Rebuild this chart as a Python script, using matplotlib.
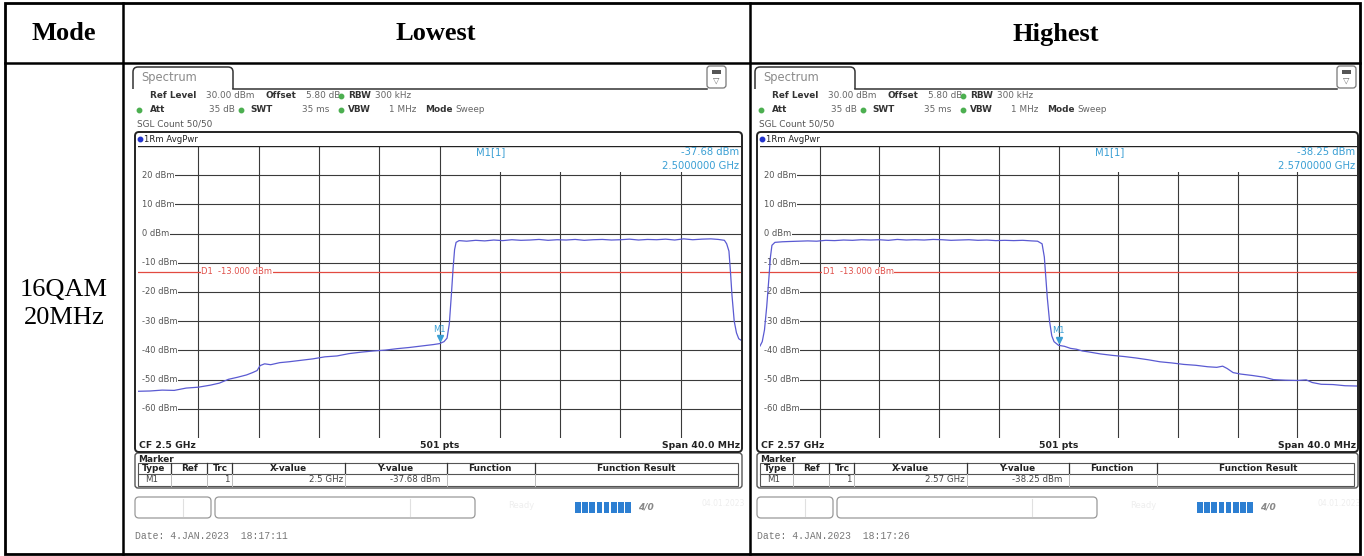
import matplotlib.pyplot as plt
from matplotlib.patches import FancyBboxPatch, Rectangle

W, H = 1364, 556

# table text
columns = ["Mode", "Lowest", "Highest"]
mode_label = "16QAM\n20MHz"

# lowest channel trace (offset from CF in MHz, level in dBm)
low_f = [-20.0, -19.2, -18.4, -17.6, -16.8, -16.0, -15.2, -14.6, -14.0, -13.4,
         -12.8, -12.4, -12.1, -11.9, -11.6, -11.2, -10.6, -10.0, -9.2, -8.4,
         -7.6, -6.8, -6.0, -5.2, -4.4, -3.6, -2.8, -2.0, -1.2, -0.4,
         0.0, 0.3, 0.5, 0.65, 0.8, 0.9, 1.0, 1.1, 1.3, 1.8,
         2.4, 3.0, 3.6, 4.2, 4.8, 5.4, 6.0, 6.6, 7.2, 7.8,
         8.4, 9.0, 9.6, 10.2, 10.8, 11.4, 12.0, 12.6, 13.2, 13.8,
         14.4, 15.0, 15.6, 16.2, 16.8, 17.4, 18.0, 18.5, 18.9, 19.05,
         19.2, 19.3, 19.4, 19.55, 19.7, 19.85, 20.0]
low_p = [-54.0, -53.9, -53.6, -53.7, -52.9, -52.6, -51.9, -51.2, -49.9, -49.2,
         -48.4, -47.6, -46.9, -45.2, -44.6, -44.9, -44.2, -43.9, -43.4, -42.9,
         -42.2, -41.9, -41.1, -40.6, -40.2, -39.9, -39.4, -39.0, -38.5, -38.0,
         -37.68, -37.0, -35.8, -31.0, -20.0, -12.0, -5.5, -3.0, -2.4, -2.6,
         -2.3, -2.5, -2.2, -2.4, -2.1, -2.3, -2.2, -2.0, -2.3, -2.1,
         -2.2, -2.0, -2.3, -2.1, -2.0, -2.2, -2.1, -1.9, -2.2, -2.0,
         -2.1, -1.9, -2.2, -1.8, -2.1, -1.9, -1.8, -2.0, -2.3, -3.5,
         -6.0, -13.0, -21.0, -30.0, -34.0, -36.0, -36.5]

# highest channel trace
high_f = [-20.0, -19.85, -19.7, -19.55, -19.4, -19.3, -19.2, -19.0, -18.5, -18.0,
          -17.4, -16.8, -16.2, -15.6, -15.0, -14.4, -13.8, -13.2, -12.6, -12.0,
          -11.4, -10.8, -10.2, -9.6, -9.0, -8.4, -7.8, -7.2, -6.6, -6.0,
          -5.4, -4.8, -4.2, -3.6, -3.0, -2.4, -1.8, -1.4, -1.1, -0.95,
          -0.85, -0.75, -0.6, -0.45, -0.3, 0.0, 0.4, 0.8, 1.2, 1.6,
          2.0, 2.8, 3.6, 4.4, 5.2, 6.0, 6.8, 7.6, 8.4, 9.2,
          10.0, 10.6, 11.0, 11.3, 11.7, 12.2, 13.0, 13.8, 14.4, 15.2,
          16.0, 16.6, 17.0, 17.6, 18.4, 19.2, 20.0]
high_p = [-38.5, -37.0, -33.0, -25.0, -15.0, -8.0, -4.0, -3.0, -2.8, -2.7,
          -2.6, -2.5, -2.6, -2.3, -2.4, -2.2, -2.3, -2.1, -2.2, -2.1,
          -2.3, -2.0, -2.2, -2.1, -2.2, -2.0, -2.1, -2.3, -2.2, -2.1,
          -2.3, -2.2, -2.4, -2.3, -2.4, -2.3, -2.5, -2.6, -3.5, -8.0,
          -15.0, -22.0, -30.0, -35.0, -37.0, -38.25, -38.6, -39.3, -39.6, -40.2,
          -40.5, -41.2, -41.7, -42.1, -42.6, -43.2, -43.9, -44.3, -44.8, -45.1,
          -45.6, -45.8, -45.4, -46.2, -47.6, -48.1, -48.6, -49.2, -50.0, -50.2,
          -50.3, -50.1, -51.0, -51.6, -51.7, -52.1, -52.2]

marker_levels = [-37.68, -38.25]
marker_freqs = ["2.5000000 GHz", "2.5700000 GHz"]
center_freqs = ["2.5 GHz", "2.57 GHz"]
dates = ["Date: 4.JAN.2023  18:17:11", "Date: 4.JAN.2023  18:17:26"]
limit_dbm = -13.0
y_ticks = [20, 10, 0, -10, -20, -30, -40, -50, -60]
table_cols = ["Type", "Ref", "Trc", "X-value", "Y-value", "Function", "Function Result"]

SANS = "DejaVu Sans"
TRACE = "#5a5ad2"
MK = "#3a9fd4"

fig = plt.figure(figsize=(W / 100, H / 100), dpi=100)
ax0 = fig.add_axes([0, 0, 1, 1])
ax0.set_xlim(0, W)
ax0.set_ylim(H, 0)
ax0.axis("off")

# table grid
ax0.add_patch(Rectangle((5, 3), 1355, 551, fill=False, lw=2, ec="black", zorder=10))
for x in [123, 750]:
    ax0.plot([x, x], [3, 554], color="black", lw=1.8, zorder=10)
ax0.plot([5, 1360], [63, 63], color="black", lw=1.8, zorder=10)
for x, t in zip([64, 436, 1056], columns):
    ax0.text(x, 34, t, ha="center", va="center", fontsize=19, fontweight="bold",
             family="Liberation Serif")
ax0.text(64, 304, mode_label, ha="center", va="center", fontsize=19,
         family="Liberation Serif", linespacing=1.3)


def t0(x, y, s, **kw):
    kw.setdefault("fontsize", 6.4)
    kw.setdefault("family", SANS)
    kw.setdefault("va", "center")
    kw.setdefault("color", "#333333")
    ax0.text(x, y, s, **kw)


def dot(x, y, c="#4caf50"):
    ax0.plot(x, y, "o", ms=3.2, color=c, mec=c, zorder=5)


def draw_screen(ox, pw, f, p, mlev, mfreq, cf, date, icon_x):
    right = ox + pw
    # tab
    ax0.add_patch(FancyBboxPatch((ox - 5, 67), 100, 40, boxstyle="round,pad=0,rounding_size=5",
                                 fc="white", ec="#333333", lw=1.1, zorder=1))
    ax0.add_patch(Rectangle((ox - 7, 89), 104, 20, fc="white", ec="none", zorder=2))
    ax0.plot([ox + 95, icon_x], [88.5, 88.5], color="#333333", lw=1.1, zorder=3)
    t0(ox + 3, 78, "Spectrum", fontsize=8.3, color="#8a8a8a", zorder=4)
    ax0.add_patch(FancyBboxPatch((icon_x, 66), 19, 22, boxstyle="round,pad=0,rounding_size=3",
                                 fc="white", ec="#777777", lw=0.9, zorder=3))
    ax0.add_patch(Rectangle((icon_x + 5, 70), 9, 4, fc="#555555", ec="none", zorder=4))
    ax0.text(icon_x + 9.5, 80, "\u25bd", ha="center", va="center", fontsize=6, color="#666666", zorder=4)

    # setting rows
    t0(ox + 12, 96, "Ref Level", fontweight="bold", zorder=4)
    t0(ox + 68, 96, "30.00 dBm", color="#666666", zorder=4)
    t0(ox + 127, 96, "Offset", fontweight="bold", zorder=4)
    t0(ox + 168, 96, "5.80 dB", color="#666666", zorder=4)
    dot(ox + 203, 96)
    t0(ox + 210, 96, "RBW", fontweight="bold", zorder=4)
    t0(ox + 237, 96, "300 kHz", color="#666666", zorder=4)
    dot(ox + 1, 110)
    t0(ox + 12, 110, "Att", fontweight="bold", zorder=4)
    t0(ox + 97, 110, "35 dB", ha="right", color="#666666", zorder=4)
    dot(ox + 103, 110)
    t0(ox + 112, 110, "SWT", fontweight="bold", zorder=4)
    t0(ox + 191, 110, "35 ms", ha="right", color="#666666", zorder=4)
    dot(ox + 203, 110)
    t0(ox + 210, 110, "VBW", fontweight="bold", zorder=4)
    t0(ox + 278, 110, "1 MHz", ha="right", color="#666666", zorder=4)
    t0(ox + 287, 110, "Mode", fontweight="bold", zorder=4)
    t0(ox + 317, 110, "Sweep", color="#666666", zorder=4)
    t0(ox - 1, 124, "SGL Count 50/50", color="#555555", zorder=4)

    # diagram frame
    ax0.add_patch(FancyBboxPatch((ox - 3, 132), pw + 4, 320, boxstyle="round,pad=0,rounding_size=4",
                                 fill=False, ec="#222222", lw=1.4, zorder=6))
    dot(ox + 2, 139, c="#2233cc")
    t0(ox + 6, 139, "1Rm AvgPwr", fontsize=6.1, color="#222222")
    t0(ox + 1, 445, "CF " + cf, fontweight="bold", fontsize=6.7, color="#222222")
    t0(ox + pw / 2, 445, "501 pts", fontweight="bold", fontsize=6.7, ha="center", color="#222222")
    t0(right - 1, 445, "Span 40.0 MHz", fontweight="bold", fontsize=6.7, ha="right", color="#222222")

    # spectrum axes
    ax = fig.add_axes([ox / W, 1 - 438 / H, pw / W, (438 - 146) / H])
    ax.set_xlim(-20, 20)
    ax.set_ylim(-70, 30)
    for s in ax.spines.values():
        s.set_visible(False)
    ax.set_xticks([])
    ax.set_yticks([])
    for v in range(-16, 20, 4):
        ax.axvline(v, color="#3a3a3a", lw=0.8, zorder=1)
    for y in y_ticks:
        ax.axhline(y, color="#3a3a3a", lw=0.8, zorder=1)
    ax.axhline(30, color="#222222", lw=1.0, zorder=3)
    ax.axhline(-70, color="#666666", lw=0.6, zorder=3)
    ax.add_patch(Rectangle((0.15, 21.0), 19.85, 8.6, fc="white", ec="none", zorder=2))
    ax.add_patch(Rectangle((-20, -70), 0.35, 100, fc="white", ec="none", zorder=2))
    for y in y_ticks:
        ax.text(-19.75, y, f"{y} dBm", ha="left", va="center", fontsize=6, color="#555555",
                family=SANS, zorder=4, bbox=dict(fc="white", ec="none", pad=0.6))
    ax.axhline(limit_dbm, color="#e24a40", lw=0.9, zorder=3)
    ax.text(-15.8, limit_dbm, f"D1  {limit_dbm:.3f} dBm", ha="left", va="center", fontsize=6,
            color="#e0504a", family=SANS, zorder=4, bbox=dict(fc="white", ec="none", pad=0.3))
    ax.plot(f, p, color=TRACE, lw=0.9, zorder=5)
    ax.plot(0, mlev + 1.8, "v", ms=4.5, color=MK, zorder=6)
    ax.text(0, mlev + 5.0, "M1", ha="center", va="center", fontsize=6, color=MK, family=SANS, zorder=6)
    ax.text(3.4, 27.9, "M1[1]", ha="center", va="center", fontsize=7.2, color=MK, family=SANS, zorder=6)
    ax.text(19.9, 27.9, f"{mlev:.2f} dBm", ha="right", va="center", fontsize=7.2, color=MK,
            family=SANS, zorder=6)
    ax.text(19.9, 23.1, mfreq, ha="right", va="center", fontsize=7.2, color=MK, family=SANS, zorder=6)

    # marker table
    ax0.add_patch(FancyBboxPatch((ox - 3, 453), pw + 4, 35, boxstyle="round,pad=0,rounding_size=3",
                                 fill=False, ec="#555555", lw=1.0))
    t0(ox, 459, "Marker", fontweight="bold", color="#222222")
    ax0.add_patch(Rectangle((ox, 463), pw - 3, 23, fill=False, ec="#555555", lw=0.8))
    ax0.plot([ox, right - 3], [474, 474], color="#555555", lw=0.8)
    seps = [33, 69, 94, 207, 309, 397]
    for s in seps:
        ax0.plot([ox + s, ox + s], [463, 474], color="#333333", lw=0.9)
        ax0.plot([ox + s, ox + s], [474, 486], color="#bbbbbb", lw=0.7)
    for c, t in zip([16, 52, 82, 150, 257, 352, 498], table_cols):
        t0(ox + c, 468.5, t, fontweight="bold", ha="center", color="#222222")
    t0(ox + 14, 480, "M1", ha="center", color="#444444", fontsize=6.2)
    t0(ox + 92, 480, "1", ha="right", color="#444444", fontsize=6.2)
    t0(ox + 205, 480, cf, ha="right", color="#444444", fontsize=6.2)
    t0(ox + 302, 480, f"{mlev:.2f} dBm", ha="right", color="#444444", fontsize=6.2)

    # status bar
    for x0, w in [(ox - 3, 76), (ox + 77, 260)]:
        ax0.add_patch(FancyBboxPatch((x0, 497), w, 21, boxstyle="round,pad=0,rounding_size=4",
                                     fill=False, ec="#999999", lw=0.9))
    ax0.plot([ox + 45, ox + 45], [499, 516], color="#e0e0e0", lw=0.8)
    ax0.plot([ox + 272, ox + 272], [499, 516], color="#e0e0e0", lw=0.8)
    t0(ox + 370, 506, "Ready", color="#eeeeee", fontsize=6)
    for k in range(8):
        ax0.add_patch(Rectangle((ox + 437 + k * 7.2, 502), 5.6, 11, fc="#2d7fd2", ec="none"))
    t0(ox + 500, 507, "4/0", color="#888888", fontsize=6.5, fontweight="bold", style="italic")
    t0(right - 40, 503, "04.01.2023", color="#eeeeee", fontsize=5.5)
    t0(ox - 3, 536, date, family="Liberation Mono", fontsize=7, color="#777777")


draw_screen(138, 603, low_f, low_p, marker_levels[0], marker_freqs[0], center_freqs[0], dates[0], 707)
draw_screen(760, 597, high_f, high_p, marker_levels[1], marker_freqs[1], center_freqs[1], dates[1], 1337)

fig.savefig("out.png", dpi=100)
